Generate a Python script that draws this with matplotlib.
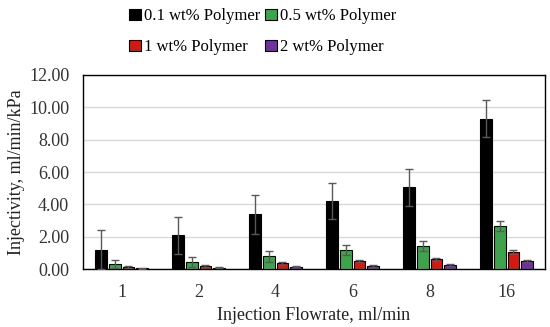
import numpy as np
import matplotlib.pyplot as plt
from matplotlib.patches import Patch

plt.rcParams['font.family'] = ['Liberation Serif', 'DejaVu Serif']

flowrates = ['1', '2', '4', '6', '8', '16']
series = ['0.1 wt% Polymer', '0.5 wt% Polymer', '1 wt% Polymer', '2 wt% Polymer']
colors = ['#000000', '#3fa34d', '#d01a12', '#7030a0']

p01 = [1.20, 2.10, 3.40, 4.20, 5.05, 9.30]
p05 = [0.30, 0.45, 0.80, 1.20, 1.45, 2.65]
p1 = [0.12, 0.20, 0.35, 0.50, 0.60, 1.05]
p2 = [0.05, 0.10, 0.15, 0.20, 0.25, 0.50]

e01 = [1.20, 1.15, 1.20, 1.10, 1.15, 1.15]
e05 = [0.25, 0.30, 0.35, 0.30, 0.30, 0.30]
e1 = [0.05, 0.06, 0.08, 0.08, 0.10, 0.12]
e2 = [0.02, 0.03, 0.04, 0.05, 0.05, 0.06]

values = [p01, p05, p1, p2]
errors = [e01, e05, e1, e2]

fig = plt.figure(figsize=(5.5, 3.27), dpi=100)
ax = fig.add_axes([0.151, 0.177, 0.840, 0.594])

x = np.arange(len(flowrates))
step = 0.18
w = 0.155
for i in range(4):
    ax.bar(x + (i - 1.5) * step, values[i], w, color=colors[i],
           edgecolor='black', linewidth=0.8, zorder=3,
           yerr=errors[i], capsize=3,
           error_kw=dict(ecolor='#595959', elinewidth=1, capthick=1, zorder=4))

ax.set_xlim(-0.5, 5.5)
ax.set_ylim(0, 12)
ax.set_yticks(np.arange(0, 12.01, 2))
ax.set_yticklabels(['%.2f' % v for v in np.arange(0, 12.01, 2)])
ax.set_xticks(x)
ax.set_xticklabels(flowrates)
ax.tick_params(axis='both', length=0, labelsize=13, colors='#333333')
ax.tick_params(axis='x', pad=11)
ax.tick_params(axis='y', pad=10)
ax.yaxis.grid(True, color='#d9d9d9', linewidth=1, zorder=0)
ax.set_axisbelow(True)
for s in ax.spines.values():
    s.set_color('black')
    s.set_linewidth(1)

ax.set_xlabel('Injection Flowrate, ml/min', fontsize=13, color='#222222', labelpad=4)
ax.set_ylabel('Injectivity, ml/min/kPa', fontsize=13, color='#222222', labelpad=3)

order = [0, 2, 1, 3]
handles = [Patch(facecolor=colors[i], edgecolor='black', linewidth=0.8) for i in order]
labels = [series[i] for i in order]
fig.legend(handles, labels, ncol=2, loc='upper center', bbox_to_anchor=(0.478, 1.02),
           frameon=False, fontsize=12, handlelength=0.7, handleheight=0.7,
           handletextpad=0.2, columnspacing=0.3, labelspacing=0.9)

fig.savefig('out.png', dpi=100)
